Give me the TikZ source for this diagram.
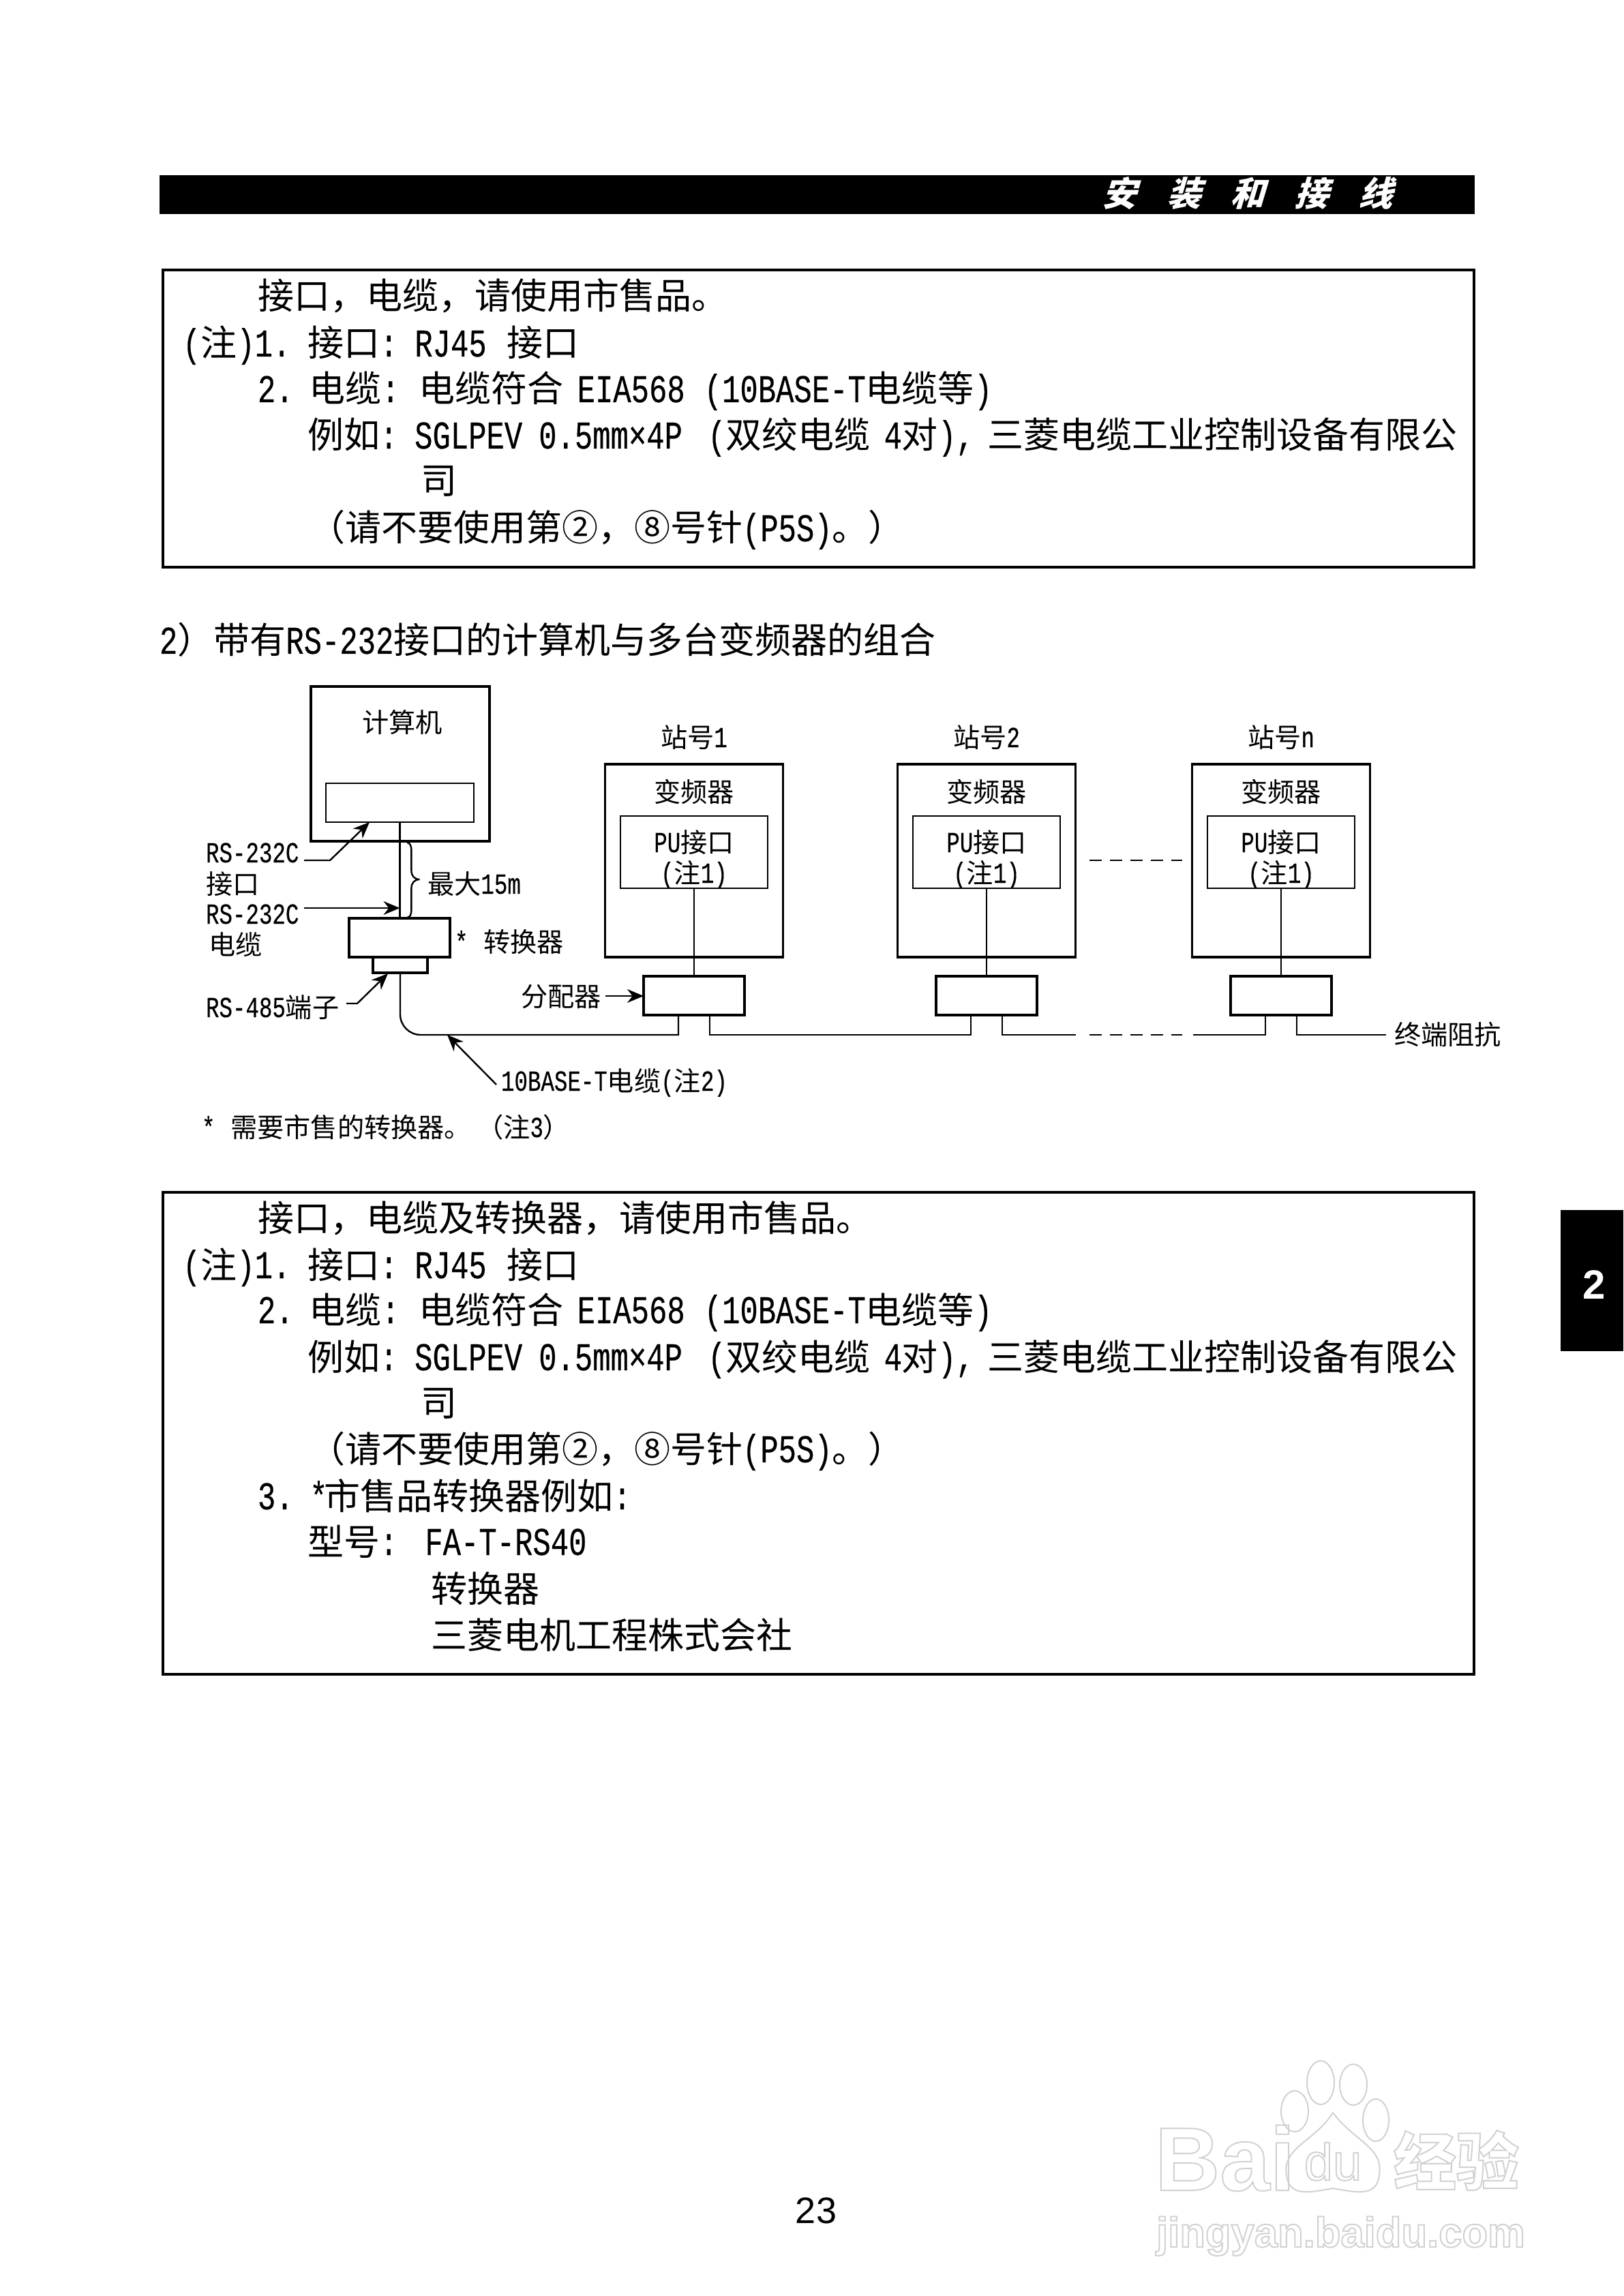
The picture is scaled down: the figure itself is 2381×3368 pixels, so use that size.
\documentclass[tikz,border=0pt]{standalone}
\usepackage{fontspec}
\usetikzlibrary{arrows.meta}
\setmainfont{Noto Sans CJK SC}
\newfontfamily\lat[FakeStretch=0.76,Scale=1.09,FakeBold=0.35,WordSpace=0.76]{Liberation Mono}
\newfontfamily\arial{Liberation Sans}
\newcommand{\la}[1]{{\lat #1}}
\newcommand{\rb}[6]{\node[#1, minimum width={((#5)-(#3))*0.25pt}, minimum height={((#6)-(#4))*0.25pt}] (#2) at ({((#3)+(#5))/2},{((#4)+(#6))/2}) {};}
\newcommand{\outl}[1]{\special{pdf:code 1 Tr 0.5 w 0.82 G}#1\special{pdf:code 0 Tr 0 G}}
\newcommand{\noteA}{\la{(}注\la{)1. }\hspace{-1pt}接口\la{: }\hspace{-1pt}\la{RJ45 }\hspace{2.5pt}接口}
\newcommand{\noteB}{\la{2. }\hspace{-1.5pt}电缆\la{: }电缆符合\la{ EIA568 }\hspace{2pt}\la{(10BASE-T}电缆等\la{)}}
\newcommand{\noteC}{例如\la{: }\hspace{-1pt}\la{SGLPEV }\hspace{1pt}\la{0.5mm×4P }\hspace{4.3pt}\la{(}双绞电缆\la{ 4}对\la{), }三菱电缆工业控制设备有限公}
\newcommand{\noteD}{（请不要使用第②，⑧号针\la{(P5S)}。）}
\tikzset{
  every node/.style={inner sep=0pt, outer sep=0pt},
  big/.style={anchor=base west, font=\fontsize{13.25pt}{16pt}\selectfont},
  small/.style={anchor=base west, font=\fontsize{9.8pt}{12pt}\selectfont},
  smallc/.style={anchor=base, font=\fontsize{9.8pt}{12pt}\selectfont},
  frame/.style={draw=black, line width=0.9pt},
  outer/.style={draw=black, line width=1.1pt},
  inner/.style={draw=black, line width=0.65pt},
  wire/.style={draw=black, line width=0.6pt},
  pointer/.style={draw=black, line width=0.6pt, -{Stealth[length=6pt,width=5pt]}},
  dashline/.style={draw=black, line width=0.6pt, dash pattern=on 4.5pt off 3pt},
  hdr/.style={font=\fontsize{12.5pt}{15pt}\selectfont\bfseries, text=white, xslant=0.3, transform shape, anchor=base west},
  wmline/.style={draw=black!18, line width=0.5pt},
}
\begin{document}
\begin{tikzpicture}[x=0.25pt,y=-0.25pt]
\useasboundingbox (0,0) rectangle (2381,3368);
% header
\rb{fill=black}{bar}{234}{257}{2163}{314}
\foreach \c/\px in {安/1616,装/1711,和/1804,接/1898,线/1992}
  \node[hdr] (h\px) at (\px,303) {\c};
% box 1
\rb{frame}{box1}{239}{396}{2162}{832}
\node[big] (t11) at (378,454) {接口，电缆，请使用市售品。};
\node[big] (t12) at (268,523) {\noteA};
\node[big] (t13) at (378,590) {\noteB};
\node[big] (t14) at (451,658) {\noteC};
\node[big] (t15) at (617,725) {司};
\node[big] (t16) at (453,794) {\noteD};
% heading
\node[big] (head) at (234,959) {\la{2}）带有\la{RS-232}接口的计算机与多台变频器的组合};
% computer
\rb{outer}{pc}{456}{1007}{718}{1234}
\rb{inner}{pcport}{478}{1149}{695}{1206}
\node[smallc] (pct) at (590,1074) {计算机};
% converter
\rb{frame}{conv}{512}{1347}{660}{1404}
\rb{frame}{term}{547}{1404}{627}{1427}
\node[small] (convt) at (667,1396) {\la{* }\hspace{2pt}转换器};
\draw[wire] (pcport.south) -- (pcport.south |- conv.north);
% labels left
\node[small] (l1) at (302,1265) {\la{RS-232C}};
\node[small] (l2) at (302,1311) {接口};
\node[small] (l3) at (302,1355) {\la{RS-232C}};
\node[small] (l4) at (306,1400) {电缆};
\node[small] (l5) at (302,1492) {\la{RS-485}端子};
\coordinate (a1) at (446,1262);
\coordinate (a1b) at (484,1262);
\coordinate (a1e) at (542,1206);
\draw[pointer] (a1) -- (a1b) -- (a1e);
\coordinate (a2) at (446,1332);
\draw[pointer] (a2) -- (a2 -| pcport.south);
\coordinate (a3) at (508,1472);
\coordinate (a3b) at (524,1472);
\coordinate (a3e) at (569,1428);
\draw[pointer] (a3) -- (a3b) -- (a3e);
% brace
\coordinate (br1) at (597,1236);
\coordinate (brm) at (615.6,1290);
\coordinate (br2) at (597,1346);
\draw[wire] (br1) .. controls (601,1236) and (603.4,1240) .. (603.4,1248) -- (603.4,1277) .. controls (603.4,1285) and (608,1290) .. (brm) .. controls (608,1290) and (603.4,1295) .. (603.4,1303) -- (603.4,1334) .. controls (603.4,1342) and (601,1346) .. (br2);
\node[small] (lmax) at (627,1311) {最大\la{15m}};
% inverters
\foreach \n/\cx/\lab in {1/1018/1,2/1447/2,3/1879/n}{
  \rb{frame}{vf\n}{\cx-130.5}{1121}{\cx+130.5}{1404}
  \rb{inner}{pu\n}{\cx-108}{1197}{\cx+108}{1303}
  \rb{frame}{d\n}{\cx-74}{1432}{\cx+74}{1489}
  \node[smallc] (st\n) at (\cx,1096) {站号\la{\lab}};
  \node[smallc] (vt\n) at (\cx,1176) {变频器};
  \node[smallc] (pt\n) at (\cx,1250) {\la{PU}接口};
  \node[smallc] (nt\n) at (\cx,1295) {\la{(}注\la{1)}};
  \draw[wire] (pu\n.south) -- (d\n.north);
}
\coordinate (bus) at (0,1518);
\draw[wire, rounded corners=7.5pt] (term.south) -- (term.south |- bus) [sharp corners] -- ([xshift=-5.75pt]d1.south |- bus) -- ([xshift=-5.75pt]d1.south);
\draw[wire] ([xshift=5.75pt]d1.south) -- ([xshift=5.75pt]d1.south |- bus) -- ([xshift=-5.75pt]d2.south |- bus) -- ([xshift=-5.75pt]d2.south);
\coordinate (e1) at (1578,1518);
\coordinate (e2) at (1598,1518);
\coordinate (e3) at (1734,1518);
\coordinate (e4) at (1750,1518);
\coordinate (e5) at (2033,1518);
\draw[wire] ([xshift=5.75pt]d2.south) -- ([xshift=5.75pt]d2.south |- bus) -- (e1);
\draw[dashline] (e2) -- (e3);
\draw[wire] (e4) -- ([xshift=-5.75pt]d3.south |- bus) -- ([xshift=-5.75pt]d3.south);
\draw[wire] ([xshift=5.75pt]d3.south) -- ([xshift=5.75pt]d3.south |- bus) -- (e5);
\coordinate (f1) at (1598,1262);
\coordinate (f2) at (1734,1262);
\draw[dashline] (f1) -- (f2);
\node[small] (endt) at (2045,1532) {终端阻抗};
\node[small] (dist) at (764,1476) {分配器};
\coordinate (a4) at (888,1461);
\draw[pointer] (a4) -- (a4 -| d1.west);
\node[small] (cab) at (735,1600) {\la{10BASE-T}电缆\la{(}注\la{2)}};
\coordinate (a5) at (728,1591);
\coordinate (a5e) at (656,1518);
\draw[pointer] (a5) -- (a5e);
\node[small] (foot) at (296,1668) {\la{* }\hspace{2pt}需要市售的转换器。\hspace{2pt}（注\la{3}）};
% box 2
\rb{frame}{box2}{239}{1749}{2162}{2456}
\node[big] (t21) at (378,1806) {接口，电缆及转换器，请使用市售品。};
\node[big] (t22) at (268,1875) {\noteA};
\node[big] (t23) at (378,1941) {\noteB};
\node[big] (t24) at (451,2010) {\noteC};
\node[big] (t25) at (617,2077) {司};
\node[big] (t26) at (453,2145) {\noteD};
\node[big] (t27) at (378,2214) {\la{3. }\hspace{-1.3pt}\la{*}\hspace{-1.3pt}市售品转换器例如\la{:}};
\node[big] (t28) at (451,2281) {型号\la{:\ \ FA-T-RS40}};
\node[big] (t29) at (632,2350) {转换器};
\node[big] (t210) at (632,2418) {三菱电机工程株式会社};
% tab
\rb{fill=black}{tab}{2289}{1775}{2381}{1982}
\node[text=white, font=\fontsize{15pt}{18pt}\selectfont\arial\bfseries] (tabt) at (2338,1885) {2};
% page number
\node[font=\fontsize{13.5pt}{16pt}\selectfont\arial] (pg) at (1197,3243) {23};
% watermark
\node[anchor=base west, font=\fontsize{33pt}{36pt}\selectfont\arial\bfseries] (wm1) at (1694,3213) {\outl{Bai}};
\draw[wmline] (1887,3190) .. controls (1880,3150) and (1930,3140) .. (1955,3099) .. controls (1985,3140) and (2030,3150) .. (2023,3190) .. controls (2020,3225) and (1985,3215) .. (1955,3210) .. controls (1925,3215) and (1890,3225) .. (1887,3190) -- cycle;
\draw[wmline] (1899,3097) ellipse [x radius=20, y radius=30];
\draw[wmline] (1937,3055) ellipse [x radius=20, y radius=32];
\draw[wmline] (1985,3058) ellipse [x radius=20, y radius=30];
\draw[wmline] (2018,3110) ellipse [x radius=19, y radius=31];
\node[anchor=base, font=\fontsize{19pt}{22pt}\selectfont\arial] (wm2) at (1955,3198) {\outl{du}};
\node[anchor=base west, font=\fontsize{23pt}{26pt}\selectfont\bfseries] (wm3) at (2044,3205) {\outl{经验}};
\node[anchor=base west, font=\fontsize{15.4pt}{18pt}\selectfont\arial\bfseries] (wm4) at (1696,3296) {\outl{jingyan.baidu.com}};
\end{tikzpicture}
\end{document}
